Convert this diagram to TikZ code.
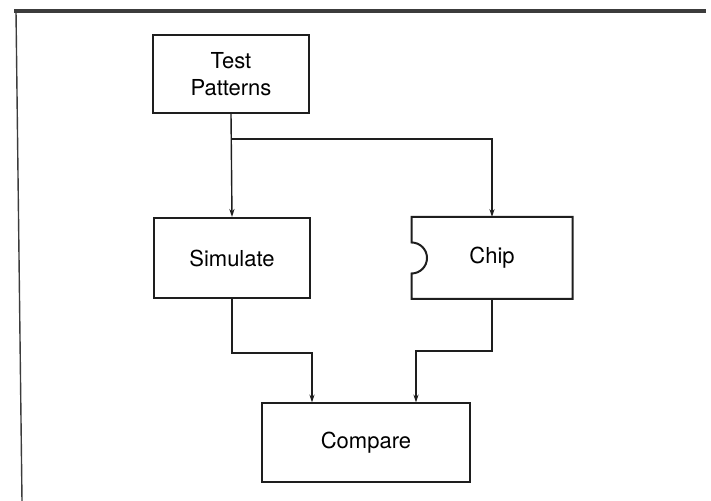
\documentclass[tikz,border=0pt]{standalone}
\usepackage{fontspec}
\setmainfont{TeX Gyre Heros}
\usetikzlibrary{arrows.meta,positioning,calc}
\definecolor{inkcol}{RGB}{30,30,30}
\definecolor{framecol}{RGB}{60,60,60}

\begin{document}
\begin{tikzpicture}[x=0.5pt,y=0.5pt,
  box/.style={draw=inkcol,line width=1pt,inner sep=0pt,align=center,
    font=\fontsize{11}{13.5}\selectfont},
  flow/.style={draw=inkcol,line width=0.7pt,-{Stealth[length=4pt,width=2.6pt]}}]
  \useasboundingbox (0,0) rectangle (711,501);
  % page frame (top and left edge only)
  \draw[framecol,line width=1.6pt] (14,490) -- (706,490);
  \draw[framecol,line width=0.7pt] (16,490) -- (22,0);
  % boxes
  \node[box,minimum width=78pt,minimum height=39pt] (patterns) at (231,427) {Test\\Patterns};
  \node[box,minimum width=78pt,minimum height=40pt] (simulate) at (232,243) {Simulate};
  \node[box,draw=none,minimum width=79.5pt,minimum height=40pt] (chip) at (492,243) {Chip};
  \node[box,minimum width=104pt,minimum height=39.5pt] (compare) at (366,58) {Compare};
  % chip outline with the notch
  \draw[inkcol,line width=1pt] (chip.north west) -- (chip.north east) -- (chip.south east)
    -- (chip.south west) -- ([yshift=-7.75pt]chip.west) arc (-90:90:7.75pt) -- cycle;
  % connectors
  \coordinate (split) at ($(patterns.south)+(0,-25)$);
  \draw[flow] (patterns.south) -- (simulate.north);
  \draw[flow] (split) -| (chip.north);
  \draw[flow] (simulate.south) -- ++(0,-54) -| ([xshift=25.5pt]compare.north west);
  \draw[flow] (chip.south) -- ++(0,-52) -| ([xshift=-27.5pt]compare.north east);
\end{tikzpicture}
\end{document}
